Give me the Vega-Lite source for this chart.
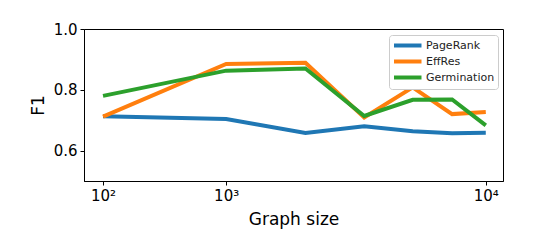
{
  "$schema": "https://vega.github.io/schema/vega-lite/v6.json",
  "width": 419,
  "height": 152,
  "autosize": {"type": "none"},
  "padding": {"left": 84, "top": 29, "right": 57, "bottom": 59},
  "background": "white",
  "config": {
    "font": "DejaVu Sans",
    "view": {"stroke": "black", "strokeWidth": 1},
    "axis": {"grid": false, "domainColor": "black", "tickColor": "black", "tickSize": 4, "labelColor": "black", "titleColor": "black", "labelFontSize": 15, "titleFontSize": 17, "titleFontWeight": "normal", "labelPadding": 3}
  },
  "data": {
    "values": [
      {"size": 100, "method": "PageRank", "f1": 0.713},
      {"size": 1000, "method": "PageRank", "f1": 0.704},
      {"size": 2460, "method": "PageRank", "f1": 0.658},
      {"size": 4180, "method": "PageRank", "f1": 0.680},
      {"size": 6100, "method": "PageRank", "f1": 0.664},
      {"size": 8040, "method": "PageRank", "f1": 0.657},
      {"size": 10000, "method": "PageRank", "f1": 0.659},
      {"size": 100, "method": "EffRes", "f1": 0.712},
      {"size": 1000, "method": "EffRes", "f1": 0.885},
      {"size": 2460, "method": "EffRes", "f1": 0.889},
      {"size": 4180, "method": "EffRes", "f1": 0.709},
      {"size": 6100, "method": "EffRes", "f1": 0.808},
      {"size": 8040, "method": "EffRes", "f1": 0.720},
      {"size": 10000, "method": "EffRes", "f1": 0.727},
      {"size": 100, "method": "Germination", "f1": 0.780},
      {"size": 1000, "method": "Germination", "f1": 0.863},
      {"size": 2460, "method": "Germination", "f1": 0.870},
      {"size": 4180, "method": "Germination", "f1": 0.714},
      {"size": 6100, "method": "Germination", "f1": 0.767},
      {"size": 8040, "method": "Germination", "f1": 0.768},
      {"size": 10000, "method": "Germination", "f1": 0.683}
    ]
  },
  "mark": {"type": "line", "strokeWidth": 4, "clip": true},
  "encoding": {
    "x": {
      "field": "size", "type": "quantitative",
      "scale": {"type": "pow", "exponent": 0.324, "domain": [56, 11115], "nice": false, "zero": false},
      "axis": {"values": [100, 1000, 10000], "title": "Graph size", "titlePadding": 8,
        "labelExpr": "datum.value == 100 ? '10²' : datum.value == 1000 ? '10³' : '10⁴'"}
    },
    "y": {
      "field": "f1", "type": "quantitative",
      "scale": {"domain": [0.5, 1.0], "nice": false, "zero": false},
      "axis": {"values": [0.6, 0.8, 1.0], "format": ".1f", "title": "F1", "titlePadding": 6}
    },
    "color": {
      "field": "method", "type": "nominal",
      "scale": {"domain": ["PageRank", "EffRes", "Germination"], "range": ["#1f77b4", "#ff7f0e", "#2ca02c"]},
      "sort": ["PageRank", "EffRes", "Germination"],
      "legend": {"title": null, "orient": "none", "legendX": 305, "legendY": 6,
        "symbolType": "M-1,0H4", "symbolSize": 121, "symbolStrokeWidth": 4,
        "labelFontSize": 11, "labelColor": "#222222", "rowPadding": -2.5,
        "padding": 3, "cornerRadius": 3, "strokeColor": "#cccccc", "fillColor": "white", "labelOffset": 19}
    },
    "order": {"field": "size", "type": "quantitative"}
  }
}
